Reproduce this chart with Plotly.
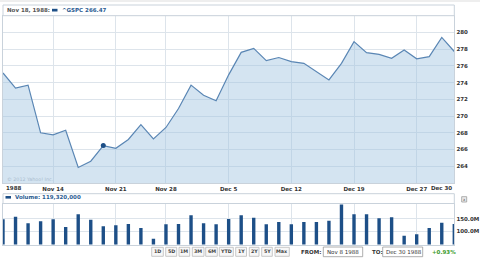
import plotly.graph_objects as go

# ---------------- data ----------------
dates = ["Nov 8", "Nov 9", "Nov 10", "Nov 11", "Nov 14", "Nov 15", "Nov 16", "Nov 17", "Nov 18",
         "Nov 21", "Nov 22", "Nov 23", "Nov 25", "Nov 28", "Nov 29", "Nov 30", "Dec 1", "Dec 2",
         "Dec 5", "Dec 6", "Dec 7", "Dec 8", "Dec 9", "Dec 12", "Dec 13", "Dec 14", "Dec 15",
         "Dec 16", "Dec 19", "Dec 20", "Dec 21", "Dec 22", "Dec 23", "Dec 27", "Dec 28",
         "Dec 29", "Dec 30"]
closes = [275.15, 273.35, 273.70, 268.00, 267.75, 268.30, 263.85, 264.60, 266.47,
          266.15, 267.20, 268.97, 267.27, 268.64, 270.91, 273.70, 272.49, 271.84,
          274.93, 277.62, 278.10, 276.62, 277.00, 276.52, 276.31, 275.30, 274.32,
          276.31, 278.90, 277.59, 277.38, 276.90, 277.90, 276.84, 277.10, 279.41, 277.72]
volumes_m = [147.8, 158.4, 131.4, 139.6, 147.8, 116.3, 168.2, 146.1, 119.32,
             123.3, 128.6, 112.2, 68.6, 127.3, 128.6, 164.0, 131.4, 127.3,
             149.0, 164.0, 154.3, 127.3, 136.7, 127.3, 136.7, 136.7, 142.0,
             208.0, 168.2, 168.2, 151.8, 156.0, 80.8, 86.5, 112.2, 133.9, 128.6]
grid_dates = ["Nov 14", "Nov 21", "Nov 28", "Dec 5", "Dec 12", "Dec 19", "Dec 27"]
price_ticks = [264, 266, 268, 270, 272, 274, 276, 278, 280]
volume_ticks = [100, 150]
volume_ticklabels = ["100.0M", "150.0M"]
range_buttons = ["1D", "5D", "1M", "3M", "6M", "YTD", "1Y", "2Y", "5Y", "Max"]
symbol = "^GSPC"
hover_date = "Nov 18"
from_date, to_date = "Nov 8 1988", "Dec 30 1988"

# ---------------- helpers ----------------
W, H = 480, 261
def px(x):
    return x / W
def py(y):
    return 1 - y / H

xs = list(range(len(dates)))
hi = dates.index(hover_date)
change = (closes[-1] / closes[0] - 1) * 100

FONT = "DejaVu Sans"
FS = 5.5
LINE = "#5a86b4"
BAR = "#1d4f87"
GRID = "#dde4eb"
BORDER = "#c9d2db"

fig = go.Figure()
fig.add_trace(go.Scatter(x=xs, y=closes, mode="lines", fill="tozeroy",
                         fillcolor="rgba(160,195,225,0.45)",
                         line=dict(color=LINE, width=1.2), xaxis="x", yaxis="y",
                         hoverinfo="skip"))
fig.add_trace(go.Scatter(x=[xs[hi]], y=[closes[hi]], mode="markers",
                         marker=dict(color=BAR, size=5), xaxis="x", yaxis="y"))
fig.add_trace(go.Bar(x=xs, y=volumes_m, width=0.27, marker=dict(color=BAR, line=dict(width=0)),
                     xaxis="x2", yaxis="y2"))

gridvals = [dates.index(d) for d in grid_dates]
xdom = [px(3), px(454.3)]
common_x = dict(domain=xdom, range=[0, len(dates) - 1], tickmode="array", tickvals=gridvals,
                showgrid=True, gridcolor=GRID, gridwidth=1, zeroline=False,
                showline=True, mirror=True, linecolor=BORDER, linewidth=1, ticks="")

fig.update_layout(
    width=W, height=H, margin=dict(l=0, r=0, t=0, b=0),
    paper_bgcolor="white", plot_bgcolor="white", showlegend=False,
    xaxis=dict(common_x, anchor="y", ticktext=grid_dates,
               tickfont=dict(family=FONT, size=FS, color="#333", weight="bold")),
    yaxis=dict(domain=[py(183), py(15.7)], range=[262, 282], side="right",
               tickmode="array", tickvals=price_ticks, ticktext=[str(v) for v in price_ticks],
               showgrid=True, gridcolor=GRID, zeroline=False, showline=True, mirror=True,
               linecolor=BORDER, ticks="",
               tickfont=dict(family=FONT, size=FS, color="#333", weight="bold")),
    xaxis2=dict(common_x, anchor="y2", showticklabels=False),
    yaxis2=dict(domain=[py(244.5), py(203.5)], range=[45, 212], side="right",
                tickmode="array", tickvals=volume_ticks, ticktext=volume_ticklabels,
                showgrid=True, gridcolor=GRID, zeroline=False, showline=True, mirror=True,
                linecolor=BORDER, ticks="",
                tickfont=dict(family=FONT, size=FS, color="#333", weight="bold")),
)

shapes = []
ann = []
# top rule
shapes.append(dict(type="line", xref="paper", yref="paper", x0=0, x1=1, y0=py(1), y1=py(1),
                   line=dict(color="#dddddd", width=1)))
# legend strip over price chart
shapes.append(dict(type="rect", xref="paper", yref="paper", x0=px(3), x1=px(454.3),
                   y0=py(15.7), y1=py(5), fillcolor="white", line=dict(color=BORDER, width=1)))
shapes.append(dict(type="rect", xref="paper", yref="paper", x0=px(52), x1=px(57.5),
                   y0=py(11.5), y1=py(8.8), fillcolor=BAR, line=dict(width=0)))
ann.append(dict(text=f"{hover_date}, 1988:", x=px(5), y=py(10.3), xref="paper", yref="paper",
                xanchor="left", yanchor="middle", showarrow=False,
                font=dict(family=FONT, size=FS, color="#555", weight="bold")))
ann.append(dict(text=f"{symbol} {closes[hi]:.2f}", x=px(59.5), y=py(10.3), xref="paper",
                yref="paper", xanchor="left", yanchor="middle", showarrow=False,
                font=dict(family=FONT, size=FS, color="#2b5c92", weight="bold")))
# watermark
ann.append(dict(text="© 2012 Yahoo! Inc.", x=px(5), y=py(179), xref="paper", yref="paper",
                xanchor="left", yanchor="middle", showarrow=False,
                font=dict(family=FONT, size=4.8, color="#a9bccf")))
# end tick labels
ann.append(dict(text="1988", x=px(3.5), y=py(188.3), xref="paper", yref="paper",
                xanchor="left", yanchor="middle", showarrow=False,
                font=dict(family=FONT, size=FS, color="#333", weight="bold")))
ann.append(dict(text=dates[-1], x=px(453.5), y=py(188.3), xref="paper", yref="paper",
                xanchor="right", yanchor="middle", showarrow=False,
                font=dict(family=FONT, size=FS, color="#333", weight="bold")))
# volume legend strip
shapes.append(dict(type="rect", xref="paper", yref="paper", x0=px(3), x1=px(454.3),
                   y0=py(203.5), y1=py(193.7), fillcolor="white", line=dict(color=BORDER, width=1)))
shapes.append(dict(type="rect", xref="paper", yref="paper", x0=px(5.5), x1=px(11),
                   y0=py(198.6), y1=py(196), fillcolor=BAR, line=dict(width=0)))
ann.append(dict(text=f"Volume: {int(round(volumes_m[hi] * 1e6)):,}", x=px(12.8), y=py(197.3),
                xref="paper", yref="paper", xanchor="left", yanchor="middle", showarrow=False,
                font=dict(family=FONT, size=FS, color="#2b5c92", weight="bold")))
# close icon
shapes.append(dict(type="rect", xref="paper", yref="paper", x0=px(461.7), x1=px(466.7),
                   y0=py(202), y1=py(196.7), fillcolor="#eeeeee", line=dict(color="#999", width=0.8)))
ann.append(dict(text="x", x=px(464.2), y=py(199.3), xref="paper", yref="paper",
                xanchor="center", yanchor="middle", showarrow=False,
                font=dict(family=FONT, size=4, color="#555")))
# range buttons
btn_edges = [(151.7, 163.3), (165.7, 176.7), (179, 189.7), (192.3, 204), (205.7, 217.3),
             (219.3, 233.3), (235.7, 246.5), (249.3, 259), (261.7, 272.3), (275, 289.3)]
for label, (a, b) in zip(range_buttons, btn_edges):
    shapes.append(dict(type="rect", xref="paper", yref="paper", x0=px(a), x1=px(b),
                       y0=py(256.3), y1=py(247.3), fillcolor="#f7f7f7",
                       line=dict(color="#bbbbbb", width=0.8)))
    ann.append(dict(text=label, x=px((a + b) / 2), y=py(251.8), xref="paper", yref="paper",
                    xanchor="center", yanchor="middle", showarrow=False,
                    font=dict(family=FONT, size=4.8, color="#444", weight="bold")))
# from/to
ann.append(dict(text="FROM:", x=px(299), y=py(251.8), xref="paper", yref="paper",
                xanchor="left", yanchor="middle", showarrow=False,
                font=dict(family=FONT, size=FS, color="#333", weight="bold")))
shapes.append(dict(type="rect", xref="paper", yref="paper", x0=px(323.3), x1=px(362.7),
                   y0=py(256.7), y1=py(247), fillcolor="white", line=dict(color="#999", width=0.8)))
ann.append(dict(text=from_date, x=px(325), y=py(251.8), xref="paper", yref="paper",
                xanchor="left", yanchor="middle", showarrow=False,
                font=dict(family=FONT, size=FS, color="#333")))
ann.append(dict(text="TO:", x=px(370), y=py(251.8), xref="paper", yref="paper",
                xanchor="left", yanchor="middle", showarrow=False,
                font=dict(family=FONT, size=FS, color="#333", weight="bold")))
shapes.append(dict(type="rect", xref="paper", yref="paper", x0=px(382.7), x1=px(422.7),
                   y0=py(256.7), y1=py(247), fillcolor="white", line=dict(color="#999", width=0.8)))
ann.append(dict(text=to_date, x=px(384), y=py(251.8), xref="paper", yref="paper",
                xanchor="left", yanchor="middle", showarrow=False,
                font=dict(family=FONT, size=FS, color="#333")))
ann.append(dict(text=f"{change:+.2f}%", x=px(429.5), y=py(251.8), xref="paper", yref="paper",
                xanchor="left", yanchor="middle", showarrow=False,
                font=dict(family=FONT, size=FS, color="#3a9a2a", weight="bold")))

fig.update_layout(shapes=shapes, annotations=ann)
fig.write_html("out.html")
